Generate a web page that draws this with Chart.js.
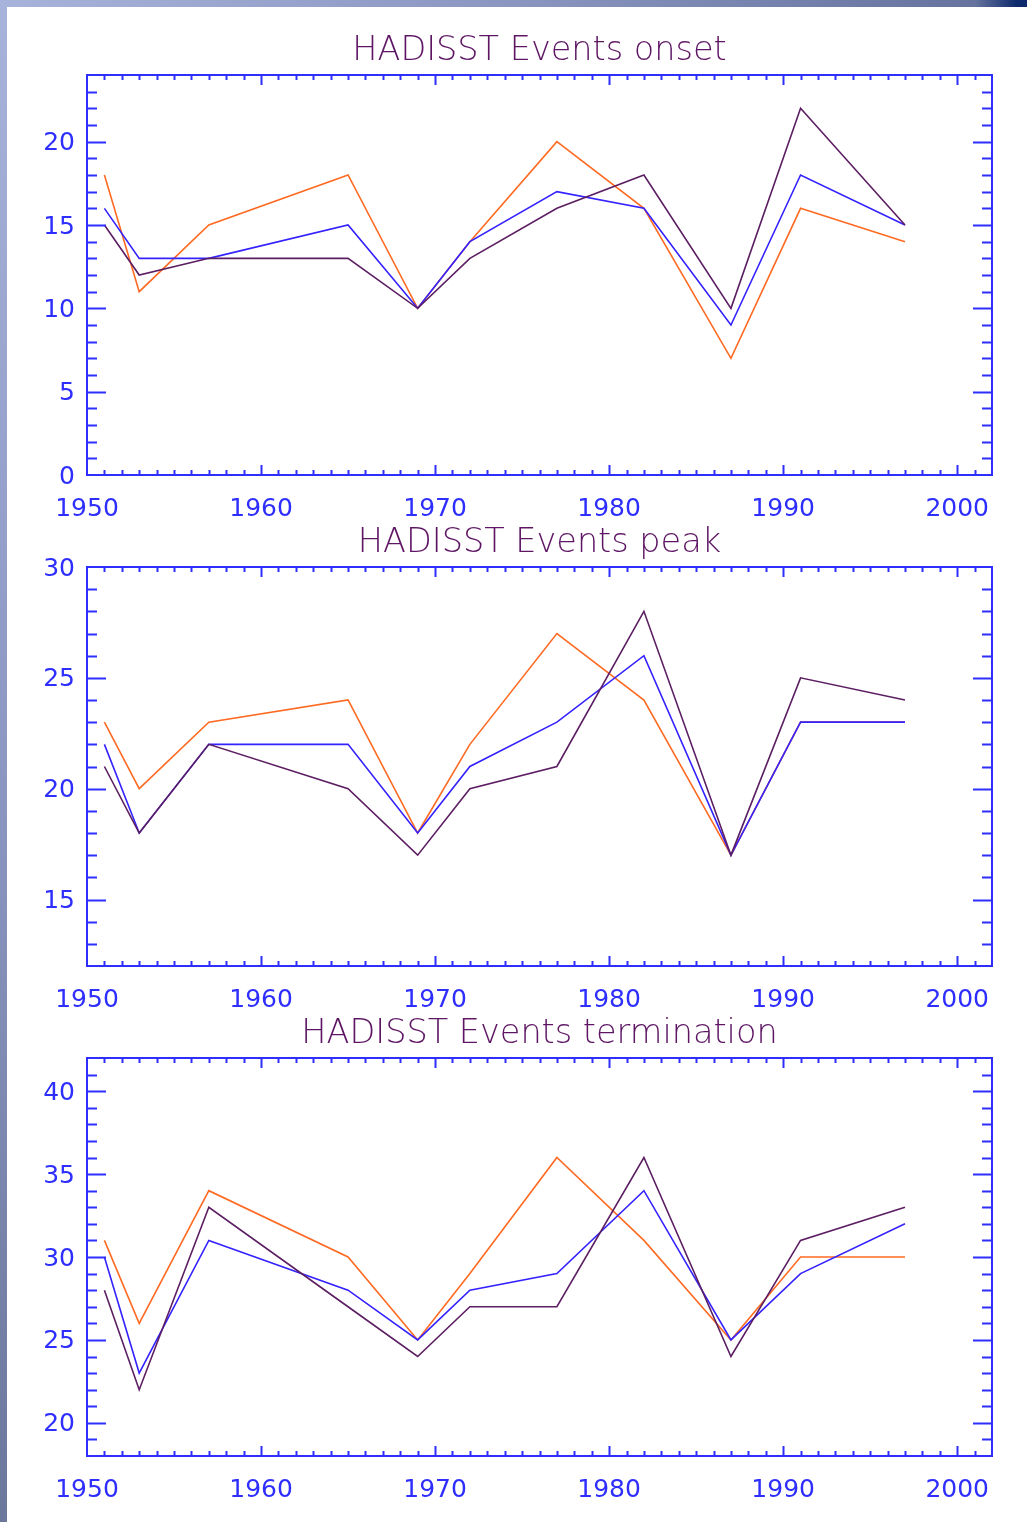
<!DOCTYPE html>
<html>
<head>
<meta charset="utf-8">
<script src="https://cdn.jsdelivr.net/npm/chart.js@4.4.1/dist/chart.umd.min.js"></script>
<style>
  html, body { margin: 0; padding: 0; }
  body {
    width: 1027px; height: 1522px; position: relative; overflow: hidden;
    background: linear-gradient(to bottom, #a7b3da 0%, #8c98c2 50%, #6c779c 100%);
  }
  #topstrip {
    position: absolute; left: 0; top: 0; width: 1027px; height: 7px;
    background: linear-gradient(to right, #a7b3da 0%, #8a96c0 50%, #65739e 95%, #0c2a6c 99%);
  }
  #page { position: absolute; left: 7px; top: 7px; width: 1020px; height: 1515px; background: #fff; }
  canvas { position: absolute; left: 0; }
</style>
</head>
<body>
<div id="topstrip"></div>
<div id="page"></div>
<canvas id="onset" width="1027" height="520" style="top:0px"></canvas>
<canvas id="peak" width="1027" height="519" style="top:492px"></canvas>
<canvas id="termination" width="1027" height="518" style="top:983px"></canvas>
<script>
// event years (x positions of every series)
const years = [1951, 1953, 1957, 1965, 1969, 1972, 1977, 1982, 1987, 1991, 1997];

// onset panel
const onsetOrange = [18, 11, 15, 18, 10, 14, 20, 16, 7, 16, 14];
const onsetBlue   = [16, 13, 13, 15, 10, 14, 17, 16, 9, 18, 15];
const onsetPurple = [15, 12, 13, 13, 10, 13, 16, 18, 10, 22, 15];

// peak panel
const peakOrange = [23, 20, 23, 24, 18, 22, 27, 24, 17, 23, 23];
const peakBlue   = [22, 18, 22, 22, 18, 21, 23, 26, 17, 23, 23];
const peakPurple = [21, 18, 22, 20, 17, 20, 21, 28, 17, 25, 24];

// termination panel
const termOrange = [31, 26, 34, 30, 25, 29, 36, 31, 25, 30, 30];
const termBlue   = [30, 23, 31, 28, 25, 28, 29, 34, 25, 29, 32];
const termPurple = [28, 22, 33, 27, 24, 27, 27, 36, 24, 31, 33];

const xMin = 1950, xMax = 2002;
const AXIS = '#2e2eff';
const TITLE = '#5e1664';
const ORANGE = '#ff6a22';
const BLUE = '#3422ff';
const PURPLE = '#5c1e62';
const FONT = '"DejaVu Sans", sans-serif';

// IDL style box: frame plus inward ticks on all four sides
const boxTicks = {
  id: 'boxTicks',
  afterDraw(chart) {
    const ctx = chart.ctx;
    const a = chart.chartArea;
    const xs = chart.scales.x, ys = chart.scales.y;
    ctx.save();
    ctx.strokeStyle = AXIS;
    ctx.lineWidth = 2;
    ctx.beginPath();
    xs.ticks.forEach(t => {
      if (t.value <= xs.min || t.value >= xs.max) return;
      const px = Math.round(xs.getPixelForValue(t.value)) + 0.5;
      const len = t.value % 10 === 0 ? 10 : 5;
      ctx.moveTo(px, a.bottom); ctx.lineTo(px, a.bottom - len);
      ctx.moveTo(px, a.top); ctx.lineTo(px, a.top + len);
    });
    ys.ticks.forEach(t => {
      if (t.value <= ys.min || t.value >= ys.max) return;
      const py = Math.round(ys.getPixelForValue(t.value)) + 0.5;
      const len = t.value % 5 === 0 ? 19 : 10;
      ctx.moveTo(a.left, py); ctx.lineTo(a.left + len, py);
      ctx.moveTo(a.right, py); ctx.lineTo(a.right - len, py);
    });
    ctx.stroke();
    ctx.strokeRect(a.left, a.top, a.right - a.left, a.bottom - a.top);
    ctx.restore();
  }
};

function series(vals, color, order) {
  return {
    data: years.map((y, i) => ({ x: y, y: vals[i] })),
    borderColor: color,
    borderWidth: 1.6,
    pointRadius: 0,
    tension: 0,
    fill: false,
    order: order
  };
}

function makeChart(id, title, orange, blue, purple, yMin, yMax) {
  new Chart(document.getElementById(id), {
    type: 'line',
    data: {
      datasets: [
        series(orange, ORANGE, 3),
        series(blue, BLUE, 2),
        series(purple, PURPLE, 1)
      ]
    },
    options: {
      responsive: false,
      animation: false,
      layout: { padding: { left: 0, right: 35, top: 0, bottom: 0 } },
      plugins: {
        legend: { display: false },
        tooltip: { enabled: false },
        title: {
          display: true,
          fullSize: false, // centre over the plot box, not the canvas
          text: title,
          color: TITLE,
          font: { family: FONT, size: 33.5, weight: 200, lineHeight: 1 },
          padding: { top: 35, bottom: 6.5 }
        }
      },
      scales: {
        x: {
          type: 'linear',
          min: xMin, max: xMax,
          grid: { display: false, drawTicks: false },
          border: { display: false },
          afterFit: s => { s.height = 45; },
          ticks: {
            stepSize: 1,
            autoSkip: false,
            maxRotation: 0,
            includeBounds: false,
            padding: 19,
            color: AXIS,
            font: { family: FONT, size: 25, weight: 'normal' },
            callback: v => (v % 10 === 0 ? String(v) : '')
          }
        },
        y: {
          min: yMin, max: yMax,
          grid: { display: false, drawTicks: false },
          border: { display: false },
          afterFit: s => { s.width = 87; },
          ticks: {
            stepSize: 1,
            autoSkip: false,
            includeBounds: false,
            padding: 12,
            labelOffset: 2,
            color: AXIS,
            font: { family: FONT, size: 25, weight: 'normal' },
            callback: v => (v % 5 === 0 ? String(v) : '')
          }
        }
      }
    },
    plugins: [boxTicks]
  });
}

makeChart('onset', 'HADISST Events onset', onsetOrange, onsetBlue, onsetPurple, 0, 24);
makeChart('peak', 'HADISST Events peak', peakOrange, peakBlue, peakPurple, 12, 30);
makeChart('termination', 'HADISST Events termination', termOrange, termBlue, termPurple, 18, 42);
</script>
</body>
</html>
